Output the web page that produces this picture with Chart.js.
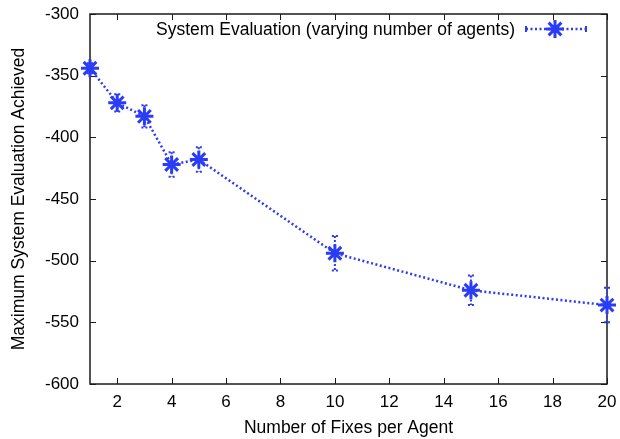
<!DOCTYPE html>
<html>
<head>
<meta charset="utf-8">
<script src="https://cdn.jsdelivr.net/npm/chart.js@4.4.1/dist/chart.umd.min.js"></script>
<style>
  html, body { margin: 0; padding: 0; background: #fff; }
  #wrap { width: 620px; height: 439px; position: relative; }
</style>
</head>
<body>
<div id="wrap"><canvas id="evalChart"></canvas></div>
<script>
const fixes = [1, 2, 3, 4, 5, 10, 15, 20];
const evals = [-344, -372, -383, -422, -418, -494, -524, -536];
const errs = [4, 7, 9, 10, 10, 14, 12, 14];
const xTicks = [2, 4, 6, 8, 10, 12, 14, 16, 18, 20];
const yTicks = [-600, -550, -500, -450, -400, -350, -300];
const seriesLabel = 'System Evaluation (varying number of agents)';

const BLUE = '#2b3cf5';
const FONT = '"Liberation Sans", Arial, Helvetica, sans-serif';

// gnuplot-like frame with inward ticks on all four sides
const framePlugin = {
    id: 'frame',
    beforeDatasetsDraw(chart) {
        const {ctx, chartArea: a, scales} = chart;
        ctx.save();
        ctx.strokeStyle = '#1a1a1a';
        ctx.lineWidth = 1.5;
        ctx.strokeRect(a.left, a.top, a.right - a.left, a.bottom - a.top);
        ctx.lineWidth = 1;
        ctx.beginPath();
        xTicks.forEach(v => {
            const px = Math.round(scales.x.getPixelForValue(v)) + 0.5;
            ctx.moveTo(px, a.bottom); ctx.lineTo(px, a.bottom - 6);
            ctx.moveTo(px, a.top); ctx.lineTo(px, a.top + 6);
        });
        yTicks.forEach(v => {
            const py = Math.round(scales.y.getPixelForValue(v)) + 0.5;
            ctx.moveTo(a.left, py); ctx.lineTo(a.left + 6, py);
            ctx.moveTo(a.right, py); ctx.lineTo(a.right - 6, py);
        });
        ctx.stroke();

        // error bars
        ctx.strokeStyle = BLUE;
        ctx.lineWidth = 2;
        ctx.setLineDash([2, 2]);
        fixes.forEach((f, i) => {
            const px = scales.x.getPixelForValue(f);
            const top = scales.y.getPixelForValue(evals[i] + errs[i]);
            const bot = scales.y.getPixelForValue(evals[i] - errs[i]);
            ctx.beginPath();
            ctx.moveTo(px, top); ctx.lineTo(px, bot);
            ctx.moveTo(px - 3, top); ctx.lineTo(px + 3, top);
            ctx.moveTo(px - 3, bot); ctx.lineTo(px + 3, bot);
            ctx.stroke();
        });
        ctx.restore();
    },
    afterDraw(chart) {
        const {ctx} = chart;
        ctx.save();
        ctx.font = '17.5px ' + FONT;
        ctx.fillStyle = '#000';
        ctx.textAlign = 'right';
        ctx.textBaseline = 'middle';
        ctx.fillText(seriesLabel, 515, 30);

        // legend sample
        ctx.strokeStyle = BLUE;
        ctx.lineWidth = 2.5;
        ctx.setLineDash([2, 2.5]);
        ctx.beginPath();
        ctx.moveTo(526, 29); ctx.lineTo(586, 29);
        ctx.stroke();
        ctx.setLineDash([]);
        ctx.lineWidth = 2;
        ctx.beginPath();
        ctx.moveTo(526, 26); ctx.lineTo(526, 32);
        ctx.moveTo(586, 26); ctx.lineTo(586, 32);
        ctx.stroke();
        ctx.lineWidth = 3;
        Chart.helpers.drawPoint(ctx, {pointStyle: 'star', radius: 9, rotation: 0, borderWidth: 3}, 555, 29);
        ctx.restore();
    }
};

new Chart(document.getElementById('evalChart'), {
    type: 'line',
    data: {
        datasets: [{
            label: seriesLabel,
            data: fixes.map((f, i) => ({x: f, y: evals[i]})),
            borderColor: BLUE,
            backgroundColor: BLUE,
            borderWidth: 2.5,
            borderDash: [2, 2.5],
            tension: 0,
            pointStyle: 'star',
            pointRadius: 9,
            pointBorderWidth: 3,
            pointBorderColor: BLUE,
            clip: false
        }]
    },
    options: {
        responsive: true,
        maintainAspectRatio: false,
        animation: false,
        layout: { padding: { top: 14, right: 13, left: 0, bottom: 0 } },
        plugins: { legend: { display: false }, tooltip: { enabled: false } },
        scales: {
            x: {
                type: 'linear',
                min: 1,
                max: 20,
                afterBuildTicks: s => { s.ticks = xTicks.map(v => ({value: v})); },
                afterFit: s => { s.height = 55; s.paddingLeft = 0; s.paddingRight = 0; },
                grid: { display: false, drawTicks: false },
                border: { display: false },
                ticks: { color: '#000', font: { family: FONT, size: 17 }, padding: 8, maxRotation: 0 },
                title: { display: true, text: 'Number of Fixes per Agent', color: '#000', font: { family: FONT, size: 17.5 }, padding: 0 }
            },
            y: {
                type: 'linear',
                min: -600,
                max: -300,
                afterBuildTicks: s => { s.ticks = yTicks.map(v => ({value: v})); },
                afterFit: s => { s.width = 90; s.paddingTop = 0; s.paddingBottom = 0; },
                grid: { display: false, drawTicks: false },
                border: { display: false },
                ticks: { color: '#000', font: { family: FONT, size: 17 }, padding: 11 },
                title: { display: true, text: 'Maximum System Evaluation Achieved', color: '#000', font: { family: FONT, size: 17.5 }, padding: 9 }
            }
        }
    },
    plugins: [framePlugin]
});
</script>
</body>
</html>
